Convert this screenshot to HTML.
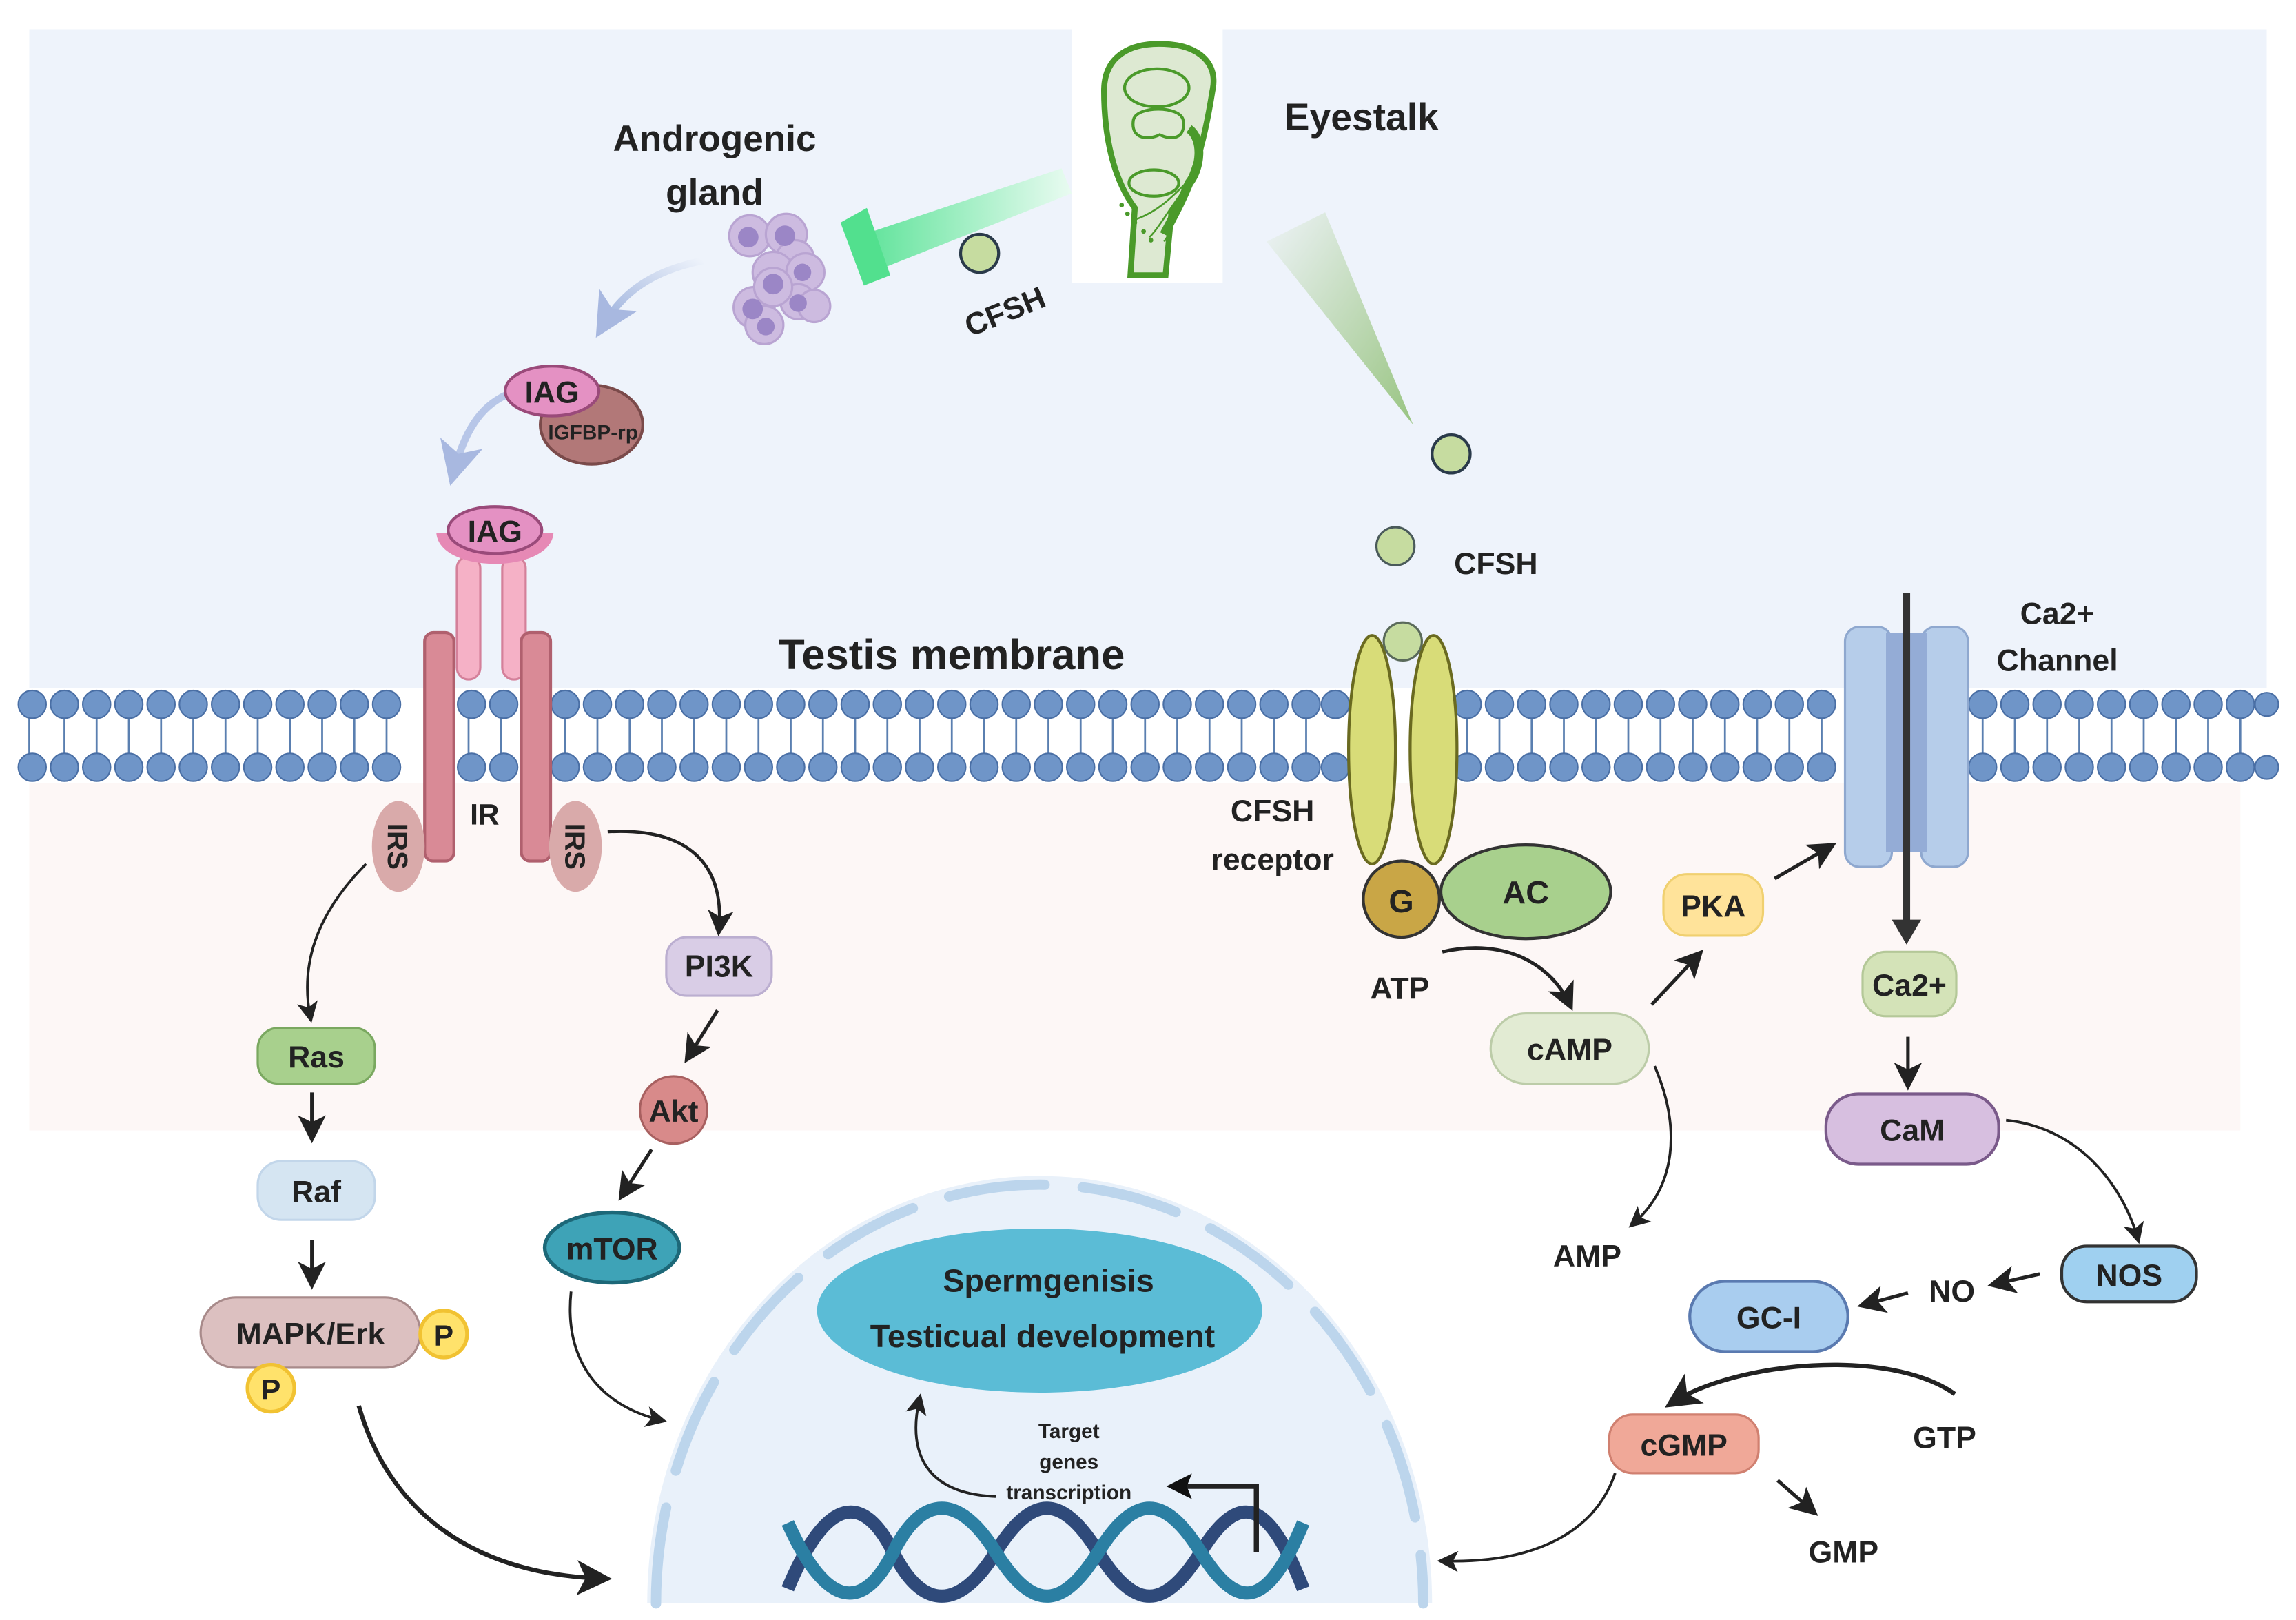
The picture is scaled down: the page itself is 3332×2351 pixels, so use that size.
<!DOCTYPE html>
<html><head><meta charset="utf-8"><style>
html,body{margin:0;padding:0;background:#fff;overflow:hidden;width:3332px;height:2351px;}
svg{display:block;overflow:hidden;}
text{font-family:"Liberation Sans",sans-serif;font-weight:bold;fill:#222;}
</style></head><body>
<svg width="3332" height="2351" viewBox="0 0 1568 1106.3" preserveAspectRatio="none" xmlns="http://www.w3.org/2000/svg">
<defs>
<linearGradient id="gbar" x1="1" y1="0" x2="0" y2="0"><stop offset="0" stop-color="#e9fbf1"/><stop offset="1" stop-color="#5fe39a"/></linearGradient>
<linearGradient id="gcone" x1="0" y1="0" x2="1" y2="1"><stop offset="0" stop-color="#eef3f7"/><stop offset="1" stop-color="#8fbf74"/></linearGradient>
<linearGradient id="gbl" x1="1" y1="0" x2="0" y2="1"><stop offset="0" stop-color="#eef3fb"/><stop offset="1" stop-color="#9bb0dc"/></linearGradient>
<marker id="ah" markerWidth="8" markerHeight="8" refX="6" refY="4" orient="auto" markerUnits="strokeWidth"><path d="M0,0 L8,4 L0,8 L2,4Z" fill="#222"/></marker>
<marker id="ahb" markerWidth="5" markerHeight="5" refX="4" refY="2.5" orient="auto" markerUnits="strokeWidth"><path d="M0,0 L5,2.5 L0,5 L1,2.5Z" fill="#111"/></marker>
<marker id="ahl" markerWidth="6" markerHeight="6" refX="4" refY="3" orient="auto" markerUnits="strokeWidth"><path d="M0,0 L6,3 L0,6 L1.5,3Z" fill="#a8b8e0"/></marker>
</defs>
<rect width="1568" height="1106" fill="#fff"/>
<rect x="20" y="20" width="1528" height="450" fill="#eef3fb"/>
<rect x="20" y="535" width="1510" height="237" fill="#fdf7f6"/>
<!-- nucleus -->
<path d="M442,1095 A268,292 0 0 1 978,1095 Z" fill="#e9f1fa"/>
<path d="M448,1095 A262,286 0 0 1 972,1095" fill="none" stroke="#bcd5ec" stroke-width="7" stroke-dasharray="66,26" stroke-linecap="round"/>
<ellipse cx="710" cy="895" rx="152" ry="56" fill="#5bbcd6"/>
<text x="716" y="882" font-size="22" text-anchor="middle">Spermgenisis</text>
<text x="712" y="920" font-size="22" text-anchor="middle">Testicual development</text>
<!-- DNA -->
<path d="M538,1085 C565,1020 590,1020 610,1060 S655,1100 680,1060 S725,1020 750,1060 S795,1100 820,1060 S865,1020 890,1085" fill="none" stroke="#2f4a7a" stroke-width="9"/>
<path d="M538,1040 C565,1100 590,1100 610,1060 S655,1020 680,1060 S725,1100 750,1060 S795,1020 820,1060 S865,1100 890,1040" fill="none" stroke="#2b7fa3" stroke-width="9"/>
<path d="M858,1060 L858,1015 L800,1015" fill="none" stroke="#222" stroke-width="3.5" marker-end="url(#ahb)"/>
<path d="M680,1022 C630,1020 620,990 628,955" fill="none" stroke="#222" stroke-width="1.8" marker-end="url(#ah)"/>
<text x="730" y="982" font-size="14" text-anchor="middle">Target</text>
<text x="730" y="1003" font-size="14" text-anchor="middle">genes</text>
<text x="730" y="1024" font-size="14" text-anchor="middle">transcription</text>
<!-- membrane -->
<g id="mem">
<g stroke="#5a7fb0" stroke-width="1.3">
<path d="M20,490 V515 M44,490 V515 M66,490 V515 M88,490 V515 M110,490 V515 M132,490 V515 M154,490 V515 M176,490 V515 M198,490 V515 M220,490 V515 M242,490 V515 M264,490 V515 M320,490 V515 M342,490 V515 M386,490 V515 M408,490 V515 M430,490 V515 M452,490 V515 M474,490 V515 M496,490 V515 M518,490 V515 M540,490 V515 M562,490 V515 M584,490 V515 M606,490 V515 M628,490 V515 M650,490 V515 M672,490 V515 M694,490 V515 M716,490 V515 M738,490 V515 M760,490 V515 M782,490 V515 M804,490 V515 M826,490 V515 M848,490 V515 M870,490 V515 M892,490 V515 M1002,490 V515 M1024,490 V515 M1046,490 V515 M1068,490 V515 M1090,490 V515 M1112,490 V515 M1134,490 V515 M1156,490 V515 M1178,490 V515 M1200,490 V515 M1222,490 V515 M1244,490 V515 M1354,490 V515 M1376,490 V515 M1398,490 V515 M1420,490 V515 M1442,490 V515 M1464,490 V515 M1486,490 V515 M1508,490 V515 M1530,490 V515"/>
</g>
<g fill="#6f95c8" stroke="#4a6fa5" stroke-width="1">
<circle cx="22" cy="481" r="9.5"/><circle cx="44" cy="481" r="9.5"/><circle cx="66" cy="481" r="9.5"/><circle cx="88" cy="481" r="9.5"/><circle cx="110" cy="481" r="9.5"/><circle cx="132" cy="481" r="9.5"/><circle cx="154" cy="481" r="9.5"/><circle cx="176" cy="481" r="9.5"/><circle cx="198" cy="481" r="9.5"/><circle cx="220" cy="481" r="9.5"/><circle cx="242" cy="481" r="9.5"/><circle cx="264" cy="481" r="9.5"/><circle cx="322" cy="481" r="9.5"/><circle cx="344" cy="481" r="9.5"/><circle cx="386" cy="481" r="9.5"/><circle cx="408" cy="481" r="9.5"/><circle cx="430" cy="481" r="9.5"/><circle cx="452" cy="481" r="9.5"/><circle cx="474" cy="481" r="9.5"/><circle cx="496" cy="481" r="9.5"/><circle cx="518" cy="481" r="9.5"/><circle cx="540" cy="481" r="9.5"/><circle cx="562" cy="481" r="9.5"/><circle cx="584" cy="481" r="9.5"/><circle cx="606" cy="481" r="9.5"/><circle cx="628" cy="481" r="9.5"/><circle cx="650" cy="481" r="9.5"/><circle cx="672" cy="481" r="9.5"/><circle cx="694" cy="481" r="9.5"/><circle cx="716" cy="481" r="9.5"/><circle cx="738" cy="481" r="9.5"/><circle cx="760" cy="481" r="9.5"/><circle cx="782" cy="481" r="9.5"/><circle cx="804" cy="481" r="9.5"/><circle cx="826" cy="481" r="9.5"/><circle cx="848" cy="481" r="9.5"/><circle cx="870" cy="481" r="9.5"/><circle cx="892" cy="481" r="9.5"/><circle cx="912" cy="481" r="9.5"/><circle cx="1002" cy="481" r="9.5"/><circle cx="1024" cy="481" r="9.5"/><circle cx="1046" cy="481" r="9.5"/><circle cx="1068" cy="481" r="9.5"/><circle cx="1090" cy="481" r="9.5"/><circle cx="1112" cy="481" r="9.5"/><circle cx="1134" cy="481" r="9.5"/><circle cx="1156" cy="481" r="9.5"/><circle cx="1178" cy="481" r="9.5"/><circle cx="1200" cy="481" r="9.5"/><circle cx="1222" cy="481" r="9.5"/><circle cx="1244" cy="481" r="9.5"/><circle cx="1354" cy="481" r="9.5"/><circle cx="1376" cy="481" r="9.5"/><circle cx="1398" cy="481" r="9.5"/><circle cx="1420" cy="481" r="9.5"/><circle cx="1442" cy="481" r="9.5"/><circle cx="1464" cy="481" r="9.5"/><circle cx="1486" cy="481" r="9.5"/><circle cx="1508" cy="481" r="9.5"/><circle cx="1530" cy="481" r="9.5"/><circle cx="1548" cy="481" r="8"/>
<circle cx="22" cy="524" r="9.5"/><circle cx="44" cy="524" r="9.5"/><circle cx="66" cy="524" r="9.5"/><circle cx="88" cy="524" r="9.5"/><circle cx="110" cy="524" r="9.5"/><circle cx="132" cy="524" r="9.5"/><circle cx="154" cy="524" r="9.5"/><circle cx="176" cy="524" r="9.5"/><circle cx="198" cy="524" r="9.5"/><circle cx="220" cy="524" r="9.5"/><circle cx="242" cy="524" r="9.5"/><circle cx="264" cy="524" r="9.5"/><circle cx="322" cy="524" r="9.5"/><circle cx="344" cy="524" r="9.5"/><circle cx="386" cy="524" r="9.5"/><circle cx="408" cy="524" r="9.5"/><circle cx="430" cy="524" r="9.5"/><circle cx="452" cy="524" r="9.5"/><circle cx="474" cy="524" r="9.5"/><circle cx="496" cy="524" r="9.5"/><circle cx="518" cy="524" r="9.5"/><circle cx="540" cy="524" r="9.5"/><circle cx="562" cy="524" r="9.5"/><circle cx="584" cy="524" r="9.5"/><circle cx="606" cy="524" r="9.5"/><circle cx="628" cy="524" r="9.5"/><circle cx="650" cy="524" r="9.5"/><circle cx="672" cy="524" r="9.5"/><circle cx="694" cy="524" r="9.5"/><circle cx="716" cy="524" r="9.5"/><circle cx="738" cy="524" r="9.5"/><circle cx="760" cy="524" r="9.5"/><circle cx="782" cy="524" r="9.5"/><circle cx="804" cy="524" r="9.5"/><circle cx="826" cy="524" r="9.5"/><circle cx="848" cy="524" r="9.5"/><circle cx="870" cy="524" r="9.5"/><circle cx="892" cy="524" r="9.5"/><circle cx="912" cy="524" r="9.5"/><circle cx="1002" cy="524" r="9.5"/><circle cx="1024" cy="524" r="9.5"/><circle cx="1046" cy="524" r="9.5"/><circle cx="1068" cy="524" r="9.5"/><circle cx="1090" cy="524" r="9.5"/><circle cx="1112" cy="524" r="9.5"/><circle cx="1134" cy="524" r="9.5"/><circle cx="1156" cy="524" r="9.5"/><circle cx="1178" cy="524" r="9.5"/><circle cx="1200" cy="524" r="9.5"/><circle cx="1222" cy="524" r="9.5"/><circle cx="1244" cy="524" r="9.5"/><circle cx="1354" cy="524" r="9.5"/><circle cx="1376" cy="524" r="9.5"/><circle cx="1398" cy="524" r="9.5"/><circle cx="1420" cy="524" r="9.5"/><circle cx="1442" cy="524" r="9.5"/><circle cx="1464" cy="524" r="9.5"/><circle cx="1486" cy="524" r="9.5"/><circle cx="1508" cy="524" r="9.5"/><circle cx="1530" cy="524" r="9.5"/><circle cx="1548" cy="524" r="8"/>
</g></g>
<text x="650" y="457" font-size="29" text-anchor="middle" fill="#333">Testis membrane</text>
<!-- eyestalk -->
<rect x="732" y="20" width="103" height="173" fill="#fff"/>
<path d="M772,188 L775,142 C760,122 754,92 754,62 C754,38 772,29 795,30 C820,31 832,44 828,62 C822,100 814,128 800,145 L796,188 Z" fill="#dde9d2" stroke="#4a9a2a" stroke-width="4"/>
<ellipse cx="790" cy="60" rx="22" ry="13" fill="none" stroke="#4a9a2a" stroke-width="2"/>
<path d="M774,82 C776,72 806,72 808,82 C810,95 800,96 792,92 C784,96 772,95 774,82Z" fill="none" stroke="#4a9a2a" stroke-width="2"/>
<ellipse cx="788" cy="125" rx="17" ry="9" fill="none" stroke="#4a9a2a" stroke-width="2"/>
<path d="M812,88 C822,95 820,115 812,125 C806,140 800,150 795,160" fill="none" stroke="#4a9a2a" stroke-width="6"/>
<path d="M810,125 C800,135 790,145 775,150 M810,128 C800,140 792,155 785,162 M808,130 C805,145 800,158 795,165" fill="none" stroke="#4a9a2a" stroke-width="1.2"/>
<g fill="#4a9a2a"><circle cx="766" cy="140" r="1.6"/><circle cx="770" cy="146" r="1.6"/><circle cx="775" cy="152" r="1.6"/><circle cx="781" cy="158" r="1.6"/><circle cx="786" cy="164" r="1.6"/></g>
<!-- eyestalk bar -->
<polygon points="590,160 725,115 732,132 598,185" fill="url(#gbar)"/>
<polygon points="574,152 592,142 608,188 590,195" fill="#52e08e"/>
<circle cx="669" cy="173" r="13" fill="#c6dca0" stroke="#2a3a4a" stroke-width="2"/>
<text x="686" y="220" font-size="21" text-anchor="middle" transform="rotate(-22 686 212)">CFSH</text>
<text x="877" y="89" font-size="26">Eyestalk</text>
<text x="488" y="103" font-size="25" text-anchor="middle">Androgenic</text>
<text x="488" y="140" font-size="25" text-anchor="middle">gland</text>
<!-- cone to right -->
<polygon points="865,165 905,145 965,290" fill="url(#gcone)" opacity="0.9"/>
<!-- gland cells -->
<g fill="#cdbbe0" stroke="#b9a4d2" stroke-width="1.5">
<circle cx="512" cy="161" r="14"/><circle cx="537" cy="160" r="14"/><circle cx="543" cy="177" r="13"/><circle cx="528" cy="186" r="14"/><circle cx="550" cy="186" r="13"/><circle cx="515" cy="210" r="14"/><circle cx="545" cy="206" r="12"/><circle cx="556" cy="209" r="11"/><circle cx="528" cy="196" r="13"/><circle cx="522" cy="222" r="13"/>
</g>
<g fill="#9b86c6"><circle cx="511" cy="162" r="7"/><circle cx="536" cy="161" r="7"/><circle cx="528" cy="194" r="7"/><circle cx="548" cy="186" r="6"/><circle cx="514" cy="211" r="7"/><circle cx="523" cy="223" r="6"/><circle cx="545" cy="207" r="6"/></g>
<!-- blue arrows -->
<path d="M480,178 C445,185 425,200 412,222" fill="none" stroke="url(#gbl)" stroke-width="5" marker-end="url(#ahl)"/>
<path d="M350,268 C330,275 318,292 310,322" fill="none" stroke="#b7c6e8" stroke-width="5" marker-end="url(#ahl)"/>
<!-- IAG complex -->
<ellipse cx="404" cy="290" rx="35" ry="27" fill="#b27878" stroke="#7a4a4a" stroke-width="2"/>
<text x="405" y="300" font-size="14" text-anchor="middle">IGFBP-rp</text>
<ellipse cx="377" cy="267" rx="32" ry="17" fill="#e491c3" stroke="#9a4a7a" stroke-width="2"/>
<text x="377" y="275" font-size="21" text-anchor="middle">IAG</text>
<!-- IR receptor -->
<rect x="312" y="380" width="16" height="84" rx="8" fill="#f5b1c6" stroke="#d4809a" stroke-width="1.5"/>
<rect x="343" y="380" width="16" height="84" rx="8" fill="#f5b1c6" stroke="#d4809a" stroke-width="1.5"/>
<path d="M298,364 C300,392 376,392 378,364 Z" fill="#e689b5"/>
<ellipse cx="338" cy="362" rx="32" ry="16" fill="#e491c3" stroke="#9a4a7a" stroke-width="2"/>
<text x="338" y="370" font-size="21" text-anchor="middle">IAG</text>
<rect x="290" y="432" width="20" height="156" rx="6" fill="#d98a96" stroke="#b0606e" stroke-width="2"/>
<rect x="356" y="432" width="20" height="156" rx="6" fill="#d98a96" stroke="#b0606e" stroke-width="2"/>
<ellipse cx="272" cy="578" rx="18" ry="31" fill="#d9aaaa"/>
<ellipse cx="393" cy="578" rx="18" ry="31" fill="#d9aaaa"/>
<text x="272" y="578" font-size="19" text-anchor="middle" transform="rotate(90 272 578)" dy="7">IRS</text>
<text x="393" y="578" font-size="19" text-anchor="middle" transform="rotate(90 393 578)" dy="7">IRS</text>
<text x="331" y="563" font-size="20" text-anchor="middle">IR</text>
<!-- CFSH receptor -->
<circle cx="991" cy="310" r="13" fill="#c6dca0" stroke="#2a3a4a" stroke-width="2"/>
<circle cx="953" cy="373" r="13" fill="#c6dca0" stroke="#4a5a5a" stroke-width="1.5"/>
<text x="993" y="392" font-size="21">CFSH</text>
<ellipse cx="937" cy="512" rx="16" ry="78" fill="#d8dc78" stroke="#6a6a20" stroke-width="2"/>
<ellipse cx="979" cy="512" rx="16" ry="78" fill="#d8dc78" stroke="#6a6a20" stroke-width="2"/>
<circle cx="958" cy="438" r="13" fill="#c6dca0" stroke="#5a6a5a" stroke-width="1.5"/>
<text x="869" y="561" font-size="21" text-anchor="middle">CFSH</text>
<text x="869" y="594" font-size="21" text-anchor="middle">receptor</text>
<ellipse cx="1042" cy="609" rx="58" ry="32" fill="#a8d08d" stroke="#333" stroke-width="2"/>
<text x="1042" y="617" font-size="22" text-anchor="middle">AC</text>
<circle cx="957" cy="614" r="26" fill="#c9a646" stroke="#333" stroke-width="2"/>
<text x="957" y="623" font-size="22" text-anchor="middle">G</text>
<!-- Ca channel -->
<rect x="1260" y="428" width="32" height="164" rx="10" fill="#b6cdea" stroke="#8fa8cf" stroke-width="1.5"/>
<rect x="1312" y="428" width="32" height="164" rx="10" fill="#b6cdea" stroke="#8fa8cf" stroke-width="1.5"/>
<rect x="1288" y="432" width="28" height="150" fill="#94acd6"/>
<path d="M1302,405 L1302,632" stroke="#333" stroke-width="5"/>
<path d="M1292,628 L1312,628 L1302,645 Z" fill="#333"/>
<text x="1405" y="426" font-size="21" text-anchor="middle">Ca2+</text>
<text x="1405" y="458" font-size="21" text-anchor="middle">Channel</text>
<!-- nodes -->
<g stroke-width="1.5">
<rect x="176" y="702" width="80" height="38" rx="14" fill="#a8d08d" stroke="#7aa860"/>
<rect x="176" y="793" width="80" height="40" rx="16" fill="#d5e5f2" stroke="#c2d6ea"/>
<rect x="137" y="886" width="150" height="48" rx="24" fill="#dcc0c0" stroke="#a88a8a"/>
<rect x="455" y="640" width="72" height="40" rx="14" fill="#d9cde6" stroke="#bbaed0"/>
<circle cx="460" cy="758" r="23" fill="#d88a8a" stroke="#a86060"/>
<ellipse cx="418" cy="852" rx="46" ry="24" fill="#3ea3b7" stroke="#1d6878" stroke-width="2.5"/>
<rect x="1136" y="597" width="68" height="42" rx="16" fill="#ffe39a" stroke="#f0d070"/>
<rect x="1018" y="692" width="108" height="48" rx="24" fill="#e2ebd3" stroke="#bccca8"/>
<rect x="1272" y="650" width="64" height="44" rx="16" fill="#d4e3b8" stroke="#b4c898"/>
<rect x="1247" y="747" width="118" height="48" rx="22" fill="#d7bfe0" stroke="#7a5a8a" stroke-width="2"/>
<rect x="1408" y="851" width="92" height="38" rx="17" fill="#9fd0f0" stroke="#333" stroke-width="2"/>
<rect x="1154" y="875" width="108" height="48" rx="24" fill="#a9cdef" stroke="#5a7ab0" stroke-width="2"/>
<rect x="1099" y="966" width="102" height="40" rx="16" fill="#f0a898" stroke="#d08070"/>
<circle cx="303" cy="911" r="16" fill="#ffe26b" stroke="#f1c232" stroke-width="2.5"/>
<circle cx="185" cy="948" r="16" fill="#ffe26b" stroke="#f1c232" stroke-width="2.5"/>
</g>
<g font-size="21" text-anchor="middle">
<text x="216" y="729">Ras</text>
<text x="216" y="821">Raf</text>
<text x="212" y="918">MAPK/Erk</text>
<text x="303" y="919" font-size="20">P</text>
<text x="185" y="956" font-size="20">P</text>
<text x="491" y="667">PI3K</text>
<text x="460" y="766">Akt</text>
<text x="418" y="860">mTOR</text>
<text x="1170" y="626">PKA</text>
<text x="1072" y="724">cAMP</text>
<text x="1304" y="680">Ca2+</text>
<text x="1306" y="779">CaM</text>
<text x="1454" y="878">NOS</text>
<text x="1208" y="907">GC-I</text>
<text x="1150" y="994">cGMP</text>
<text x="956" y="682">ATP</text>
<text x="1084" y="865">AMP</text>
<text x="1333" y="889">NO</text>
<text x="1328" y="989">GTP</text>
<text x="1259" y="1067">GMP</text>
</g>
<!-- arrows -->
<g fill="none" stroke="#222" stroke-width="1.8">
<path d="M250,590 C215,625 205,660 212,695" marker-end="url(#ah)"/>
<path d="M415,568 C470,565 495,590 491,635" stroke-width="2.2" marker-end="url(#ah)"/>
<path d="M213,746 L213,776" stroke-width="2.4" marker-end="url(#ah)"/>
<path d="M213,847 L213,876" stroke-width="2.4" marker-end="url(#ah)"/>
<path d="M490,690 L470,722" stroke-width="2.4" marker-end="url(#ah)"/>
<path d="M445,785 L425,816" stroke-width="2.4" marker-end="url(#ah)"/>
<path d="M390,882 C385,930 410,960 452,970" marker-end="url(#ah)"/>
<path d="M245,960 C265,1030 320,1075 412,1078" stroke-width="3" marker-end="url(#ah)"/>
<path d="M985,650 C1030,640 1060,660 1072,686" stroke-width="2.4" marker-end="url(#ah)"/>
<path d="M1128,686 L1160,652" stroke-width="2.4" marker-end="url(#ah)"/>
<path d="M1212,600 L1250,578" stroke-width="2.4" marker-end="url(#ah)"/>
<path d="M1130,728 C1148,770 1145,810 1115,836" marker-end="url(#ah)"/>
<path d="M1303,708 L1303,740" stroke-width="2.4" marker-end="url(#ah)"/>
<path d="M1370,765 C1420,770 1450,810 1460,846" marker-end="url(#ah)"/>
<path d="M1393,870 L1362,877" stroke-width="2.4" marker-end="url(#ah)"/>
<path d="M1303,883 L1273,891" stroke-width="2.4" marker-end="url(#ah)"/>
<path d="M1335,952 C1290,920 1185,930 1142,958" stroke-width="3" marker-end="url(#ah)"/>
<path d="M1214,1011 L1238,1032" stroke-width="2.4" marker-end="url(#ah)"/>
<path d="M1103,1006 C1090,1045 1050,1068 985,1066" marker-end="url(#ah)"/>
</g>
</svg>
</body></html>
